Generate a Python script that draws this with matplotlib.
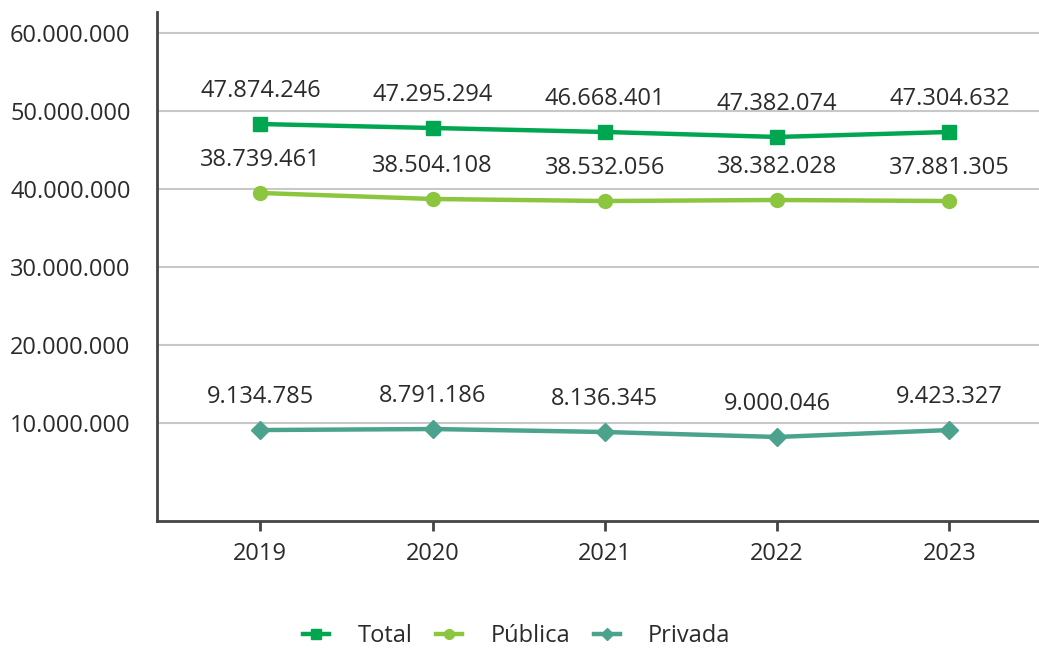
import matplotlib
matplotlib.use("Agg")
import matplotlib.pyplot as plt
import numpy as np

plt.rcParams['font.family'] = ['Open Sans', 'DejaVu Sans']

years = ["2019", "2020", "2021", "2022", "2023"]
total_vals = [48.33e6, 47.82e6, 47.31e6, 46.67e6, 47.31e6]
publica_vals = [39.49e6, 38.72e6, 38.46e6, 38.59e6, 38.46e6]
privada_vals = [9.10e6, 9.23e6, 8.85e6, 8.21e6, 9.10e6]
total_labels = ["47.874.246", "47.295.294", "46.668.401", "47.382.074", "47.304.632"]
publica_labels = ["38.739.461", "38.504.108", "38.532.056", "38.382.028", "37.881.305"]
privada_labels = ["9.134.785", "8.791.186", "8.136.345", "9.000.046", "9.423.327"]
yticks = [10e6, 20e6, 30e6, 40e6, 50e6, 60e6]
ytick_labels = ["10.000.000", "20.000.000", "30.000.000", "40.000.000", "50.000.000", "60.000.000"]

c_total = "#00a650"
c_pub = "#8cc63e"
c_priv = "#4ba38d"
txt = "#2b2b2b"

fig = plt.figure(figsize=(10.39, 6.48), dpi=100)
ax = fig.add_axes([157/1039, 1-521/648, 1-157/1039, (521-12)/648])

x = np.arange(len(years))
series = [
    ("Total", total_vals, total_labels, c_total, "s", 10),
    ("Pública", publica_vals, publica_labels, c_pub, "o", 10),
    ("Privada", privada_vals, privada_labels, c_priv, "D", 9),
]
for name, vals, labs, col, mk, ms in series:
    ax.plot(x, vals, color=col, lw=3.2, marker=mk, markersize=ms, label=name, zorder=3)
    for xi, v, lab in zip(x, vals, labs):
        ax.annotate(lab, (xi, v), xytext=(0, 23.5), textcoords="offset points",
                    ha="center", va="center", fontsize=17, color=txt)

ax.set_xlim(-0.6, 4.52)
ax.set_ylim(-2.56e6, 62.69e6)
ax.set_xticks(x)
ax.set_xticklabels(years)
ax.set_yticks(yticks)
ax.set_yticklabels(ytick_labels)
ax.tick_params(axis="y", length=0, pad=19, labelsize=17, labelcolor=txt)
ax.tick_params(axis="x", length=7, width=2, color="#444444", pad=8, labelsize=17, labelcolor=txt)
ax.grid(axis="y", color="#c8c8c8", lw=1.5)
ax.set_axisbelow(True)
for s in ["top", "right"]:
    ax.spines[s].set_visible(False)
for s in ["left", "bottom"]:
    ax.spines[s].set_color("#444444")
    ax.spines[s].set_linewidth(2)

fig.legend(loc="center", bbox_to_anchor=(517/1039, 1-636/648), ncol=3, frameon=False,
           fontsize=17, handlelength=1.1, columnspacing=1.0, handletextpad=1.2,
           labelcolor=txt, markerscale=0.7)

fig.savefig("out.png", dpi=100)
